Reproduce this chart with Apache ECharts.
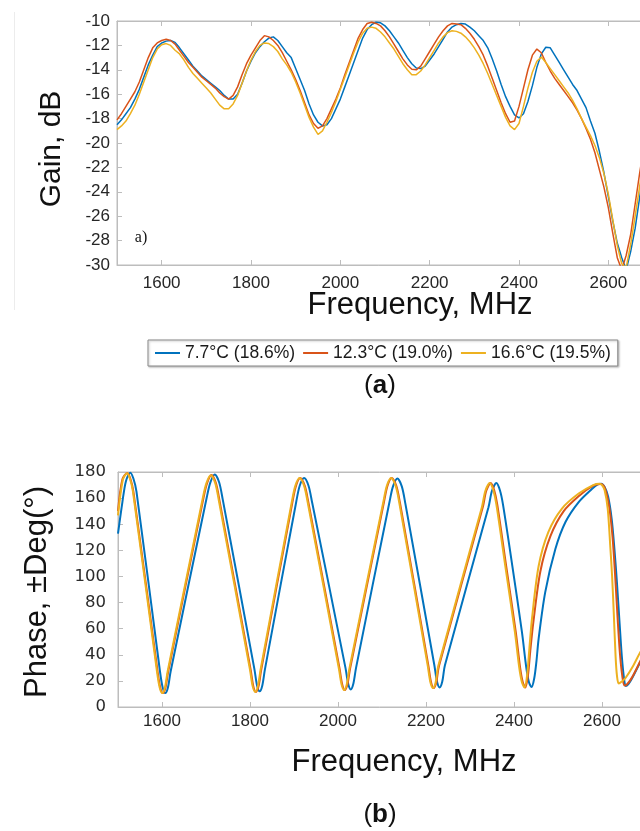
<!DOCTYPE html>
<html>
<head>
<meta charset="utf-8">
<script src="https://cdn.jsdelivr.net/npm/echarts@6/dist/echarts.min.js"></script>
<style>
  html, body { margin: 0; padding: 0; background: #fff; }
  #chart { width: 640px; height: 831px; }
</style>
</head>
<body>
<div id="chart"></div>
<script>
// Series names (temperature and moisture of the sample)
const seriesNames = ['7.7°C (18.6%)', '12.3°C (19.0%)', '16.6°C (19.5%)'];
const seriesColors = ['#0072BD', '#D95319', '#EDB120'];

// Frequency ticks shown on both panels, MHz
const freqTicks = [1600, 1800, 2000, 2200, 2400, 2600];

// (a) Gain, dB — sampled every 10 MHz from 1500 to 2700
const gainFreq = [];
for (let f = 1500; f <= 2700; f += 10) gainFreq.push(f);

const gainBlue = [
  -18.5, -18.1, -17.6, -17.1, -16.4, -15.6, -14.6, -13.6, -12.8, -12.1,
  -11.8, -11.65, -11.6, -11.75, -12.2, -12.7, -13.2, -13.7, -14.1, -14.5,
  -14.8, -15.1, -15.4, -15.7, -16.1, -16.4, -16.4, -16.0, -15.1, -14.1,
  -13.3, -12.6, -12.1, -11.7, -11.4, -11.3, -11.6, -12.1, -12.6, -13.0,
  -13.9, -14.8, -15.7, -16.8, -17.7, -18.3, -18.6, -18.5, -18.0, -17.2,
  -16.4, -15.4, -14.4, -13.4, -12.4, -11.4, -10.7, -10.3, -10.1, -10.15,
  -10.4, -10.8, -11.3, -11.8, -12.4, -13.0, -13.5, -13.85, -13.9, -13.7,
  -13.2, -12.7, -12.1, -11.5, -10.9, -10.5, -10.3, -10.2, -10.25, -10.5,
  -10.8, -11.2, -11.6, -12.2, -13.1, -14.1, -15.2, -16.2, -17.0, -17.7,
  -17.95, -17.6, -16.6, -15.3, -13.8, -12.7, -12.15, -12.2, -12.8, -13.4,
  -14.0, -14.6, -15.2, -15.7, -16.4, -17.1, -18.2, -19.2, -20.7, -22.4,
  -24.4, -26.4, -28.2, -29.4, -30.4, -28.9, -27.0, -24.5, -21.8, -19.5,
  -17.8
];

const gainRed = [
  -18.1, -17.6, -17.0, -16.4, -15.8, -15.0, -14.0, -13.0, -12.2, -11.8,
  -11.6, -11.5, -11.6, -11.9, -12.4, -12.9, -13.4, -13.8, -14.2, -14.6,
  -14.9, -15.2, -15.5, -15.9, -16.2, -16.4, -16.1, -15.4, -14.4, -13.5,
  -12.8, -12.2, -11.6, -11.2, -11.3, -11.6, -12.0, -12.6, -13.3, -14.0,
  -14.8, -15.7, -16.7, -17.7, -18.4, -18.8, -18.6, -18.0, -17.2, -16.4,
  -15.5, -14.4, -13.4, -12.4, -11.4, -10.7, -10.2, -10.1, -10.2, -10.4,
  -10.8, -11.3, -11.9, -12.5, -13.1, -13.6, -13.95, -14.0, -13.7, -13.1,
  -12.5, -11.9, -11.3, -10.8, -10.4, -10.2, -10.25, -10.3, -10.6, -11.0,
  -11.5, -12.1, -12.8, -13.7, -14.7, -15.7, -16.7, -17.6, -18.3, -18.2,
  -17.0, -15.5, -14.0, -12.8, -12.3, -12.6, -13.4, -14.1, -14.7, -15.2,
  -15.7, -16.2, -16.7, -17.3, -18.0, -18.8, -19.7, -20.8, -22.2, -23.6,
  -25.3, -27.4, -29.4, -30.4, -29.2, -27.5, -25.0, -22.5, -20.2, -18.5,
  -17.1
];

const gainYellow = [
  -18.9, -18.6, -18.2, -17.6, -16.9, -16.0, -15.0, -14.0, -13.0, -12.3,
  -11.95, -11.85, -12.0, -12.4, -12.7, -13.2, -13.8, -14.3, -14.7, -15.1,
  -15.5, -15.9, -16.4, -16.9, -17.2, -17.2, -16.8, -16.1, -15.1, -14.1,
  -13.2, -12.5, -12.0, -11.8, -11.85, -12.1, -12.5, -13.1, -13.6, -14.2,
  -15.0, -15.9, -16.9, -17.9, -18.7, -19.3, -19.0, -18.3, -17.5, -16.6,
  -15.6, -14.6, -13.6, -12.6, -11.7, -11.0, -10.6, -10.5, -10.6, -10.9,
  -11.3, -11.8, -12.3, -12.9, -13.5, -14.0, -14.4, -14.4, -14.1, -13.6,
  -13.0, -12.4, -11.8, -11.3, -10.95, -10.8, -10.85, -11.0, -11.3, -11.7,
  -12.2, -12.8, -13.5, -14.3, -15.2, -16.1, -17.0, -17.9, -18.6, -18.9,
  -18.4, -17.0, -15.5, -14.2, -13.3, -12.95, -13.4, -13.9, -14.4, -14.9,
  -15.4, -15.9, -16.5, -17.2, -18.0, -18.7, -19.4, -20.2, -21.2, -22.5,
  -24.2, -26.3, -28.4, -29.9, -30.2, -28.3, -26.0, -23.6, -21.2, -19.3,
  -17.8
];

// (b) Phase, ±Deg — frequency / value pairs per curve
const phaseFreqBlue = [
  1500, 1510, 1518, 1528, 1535, 1542, 1595.5, 1601.5, 1607.5, 1613.5,
  1619.5, 1702, 1710, 1720, 1730, 1738, 1810, 1816, 1822, 1828,
  1834, 1905, 1913, 1923, 1933, 1941, 2017, 2023, 2029, 2035,
  2041, 2117, 2125, 2135, 2145, 2153, 2219, 2225, 2231, 2237,
  2243, 2342, 2350, 2360, 2368, 2375, 2396, 2418, 2428, 2434,
  2440, 2446, 2451, 2456, 2471, 2494, 2517, 2547, 2577, 2590,
  2598, 2606, 2614, 2622, 2628, 2634, 2640, 2645, 2650, 2654,
  2660, 2668, 2687, 2700
];
const phaseBlue = [
  132.8, 157, 173, 179.5, 175, 165, 27, 15, 10.7, 15,
  27, 161, 172, 178, 172, 159, 29, 16.5, 12, 16.5,
  29, 157, 169.5, 175.4, 169.5, 157, 30, 18, 13.5, 18,
  30, 157, 169, 175, 169, 156, 32, 19.5, 15, 19.5,
  32, 153, 165.6, 171.6, 166, 155, 108.5, 57.5, 30, 19,
  15.3, 22, 35, 52.4, 88, 121, 141.7, 157, 167, 170.5,
  171, 168.5, 161, 144, 122, 95, 64, 39, 22, 16,
  17.5, 21.8, 34.5, 43
];

const phaseFreqRed = [
  1500, 1510, 1521, 1528, 1535, 1590, 1596, 1602, 1608, 1614,
  1694.5, 1702.5, 1712.5, 1722.5, 1730.5, 1801.5, 1807.5, 1813.5, 1819.5, 1825.5,
  1896.5, 1904.5, 1914, 1924.5, 1932.5, 2003.5, 2009.5, 2015.5, 2021.5, 2027.5,
  2104.5, 2112.5, 2122, 2132.5, 2140.5, 2205.5, 2211.5, 2217.5, 2223.5, 2229.5,
  2329, 2337, 2347, 2355, 2362, 2382, 2404, 2414, 2420, 2426,
  2432, 2437, 2444, 2460, 2483, 2513, 2549, 2580, 2596, 2604,
  2610, 2617, 2624, 2630, 2636, 2641, 2646, 2651, 2656, 2668,
  2687, 2700
];
const phaseRed = [
  150, 174.5, 179.2, 175, 165, 27, 15, 10.7, 15, 27,
  160.5, 171.5, 177.7, 171.5, 158.5, 28.5, 16, 11.5, 16, 28.5,
  157, 169.4, 175.4, 169.4, 157, 29.5, 17.5, 13, 17.5, 29.5,
  157, 169.5, 175.5, 169.5, 157, 31.5, 19, 14.5, 19, 31.5,
  153, 165.6, 171.6, 166, 155, 108.5, 57.5, 30, 19, 15,
  25, 43, 65, 104, 131, 150, 162, 169.5, 170.8, 169.5,
  164, 152, 130, 100, 65, 40, 24, 16.5, 17, 22.5,
  35, 44
];

const phaseFreqYellow = [
  1500, 1511, 1520.5, 1527, 1534, 1588.7, 1594.7, 1600.7, 1606.7, 1612.7,
  1693, 1701, 1711, 1721, 1729, 1800, 1806, 1812, 1818, 1824,
  1895, 1903, 1912.7, 1923, 1931, 2002, 2008, 2014, 2020, 2026,
  2103, 2111, 2120.7, 2131, 2139, 2204, 2210, 2216, 2222, 2228,
  2327, 2335, 2345, 2353, 2360, 2380, 2402, 2412, 2418, 2424,
  2430, 2435, 2441, 2456, 2478, 2509, 2547, 2580, 2594, 2600,
  2606, 2613, 2619, 2623, 2627, 2631, 2634, 2638, 2645, 2653,
  2670, 2687, 2700
];
const phaseYellow = [
  146.8, 174, 179, 175, 165, 27, 15, 10.7, 15, 27,
  160.5, 171.5, 177.5, 171.5, 158.5, 28.5, 16, 11.5, 16, 28.5,
  157, 169.4, 175.4, 169.4, 157, 29.5, 17.5, 13, 17.5, 29.5,
  157, 169.5, 175.5, 169.5, 157, 31.5, 19, 14.5, 19, 31.5,
  153, 165.6, 171.6, 166, 155, 108.5, 57.5, 30, 19, 15,
  25, 45, 68, 108, 134, 152, 163.5, 170, 171, 170,
  166, 152, 122, 100, 70, 38, 24, 18, 19.5, 22,
  31, 42, 49
];

function pairs(xs, ys) { return xs.map((x, i) => [x, ys[i]]); }

const gainSeries = [gainBlue, gainRed, gainYellow];
const phaseSeries = [
  [phaseFreqBlue, phaseBlue],
  [phaseFreqRed, phaseRed],
  [phaseFreqYellow, phaseYellow]
];

const sans = 'Liberation Sans, Arial, sans-serif';
const axisGray = '#bdbdbd';
const plain = v => String(v);

function freqAxis(gridIndex, position, labelOpts) {
  return {
    type: 'value', gridIndex, position, min: 1500, max: 2700,
    axisLine: { show: true, lineStyle: { color: axisGray, width: 1 } },
    axisTick: { show: true, inside: true, length: 5, customValues: freqTicks,
                lineStyle: { color: axisGray } },
    axisLabel: Object.assign({ customValues: freqTicks, formatter: plain }, labelOpts),
    splitLine: { show: false }
  };
}

const option = {
  animation: false,
  backgroundColor: '#fff',
  grid: [
    { left: 117, top: 21, width: 536, height: 244, show: true, outerBoundsMode: 'none',
      containLabel: false, borderColor: axisGray, borderWidth: 1, backgroundColor: '#fff' },
    { left: 118, top: 472, width: 528, height: 235, show: true, outerBoundsMode: 'none',
      containLabel: false, borderColor: axisGray, borderWidth: 1, backgroundColor: '#fff' }
  ],
  xAxis: [
    freqAxis(0, 'bottom', { show: true, margin: 10, fontSize: 17, fontFamily: sans, color: '#262626' }),
    freqAxis(0, 'top', { show: false }),
    freqAxis(1, 'bottom', { show: true, margin: 6, fontSize: 17, fontFamily: sans, color: '#262626' }),
    freqAxis(1, 'top', { show: false })
  ],
  yAxis: [
    { type: 'value', gridIndex: 0, min: -30, max: -10, interval: 2,
      axisLine: { show: true, lineStyle: { color: axisGray } },
      axisTick: { show: true, inside: true, length: 5, lineStyle: { color: axisGray } },
      axisLabel: { margin: 7, fontSize: 17, fontFamily: sans, color: '#262626', formatter: plain },
      splitLine: { show: false } },
    { type: 'value', gridIndex: 1, min: 0, max: 180, interval: 20,
      axisLine: { show: true, lineStyle: { color: axisGray } },
      axisTick: { show: true, inside: true, length: 5, lineStyle: { color: axisGray } },
      axisLabel: { margin: 12, fontSize: 16.5, fontFamily: 'DejaVu Sans, sans-serif', color: '#2b2b2b', formatter: plain },
      splitLine: { show: false } }
  ],
  legend: {
    left: 148, top: 340, orient: 'horizontal',
    data: seriesNames,
    icon: 'rect', itemWidth: 25, itemHeight: 2, itemGap: 8,
    padding: [4, 7],
    backgroundColor: '#fff',
    borderColor: '#8a8a8a', borderWidth: 1, borderRadius: 0,
    shadowColor: 'rgba(0,0,0,0.25)', shadowBlur: 2, shadowOffsetX: 1, shadowOffsetY: 1,
    textStyle: { fontSize: 17.5, fontFamily: sans, color: '#1a1a1a' },
    selectedMode: false
  },
  series: [
    ...gainSeries.map((ys, i) => ({
      name: seriesNames[i], type: 'line', xAxisIndex: 0, yAxisIndex: 0,
      data: pairs(gainFreq, ys), showSymbol: false, clip: true,
      color: seriesColors[i], lineStyle: { width: 1.5, color: seriesColors[i] }
    })),
    ...phaseSeries.map((s, i) => ({
      name: seriesNames[i], type: 'line', xAxisIndex: 2, yAxisIndex: 1,
      data: pairs(s[0], s[1]), showSymbol: false, clip: true, smooth: 0.3,
      color: seriesColors[i], lineStyle: { width: 2, color: seriesColors[i] }
    }))
  ],
  graphic: [
    { type: 'line', shape: { x1: 14.5, y1: 12, x2: 14.5, y2: 310 },
      style: { stroke: '#ececec', lineWidth: 1 }, silent: true },
    { type: 'text', x: 52, y: 149, rotation: Math.PI / 2,
      style: { text: 'Gain, dB', font: '30px ' + sans, fill: '#111', align: 'center', verticalAlign: 'middle' } },
    { type: 'text', x: 420, y: 305,
      style: { text: 'Frequency, MHz', font: '31px ' + sans, fill: '#111', align: 'center', verticalAlign: 'middle' } },
    { type: 'text', x: 141, y: 238,
      style: { text: 'a)', font: '16px Liberation Serif, Times New Roman, serif', fill: '#111', align: 'center', verticalAlign: 'middle' } },
    { type: 'text', x: 380, y: 386,
      style: { text: '{p|(}{b|a}{p|)}', align: 'center', verticalAlign: 'middle',
        rich: { p: { font: '26px ' + sans, fill: '#111' }, b: { font: 'bold 26px ' + sans, fill: '#111' } } } },
    { type: 'text', x: 37, y: 592, rotation: Math.PI / 2,
      style: { text: 'Phase, ±Deg(°)', font: '31px ' + sans, fill: '#111', align: 'center', verticalAlign: 'middle' } },
    { type: 'text', x: 404, y: 762,
      style: { text: 'Frequency, MHz', font: '31px ' + sans, fill: '#111', align: 'center', verticalAlign: 'middle' } },
    { type: 'text', x: 380, y: 815,
      style: { text: '{p|(}{b|b}{p|)}', align: 'center', verticalAlign: 'middle',
        rich: { p: { font: '26px ' + sans, fill: '#111' }, b: { font: 'bold 26px ' + sans, fill: '#111' } } } }
  ]
};

const chart = echarts.init(document.getElementById('chart'), null, { renderer: 'canvas' });
chart.setOption(option);
</script>
</body>
</html>
